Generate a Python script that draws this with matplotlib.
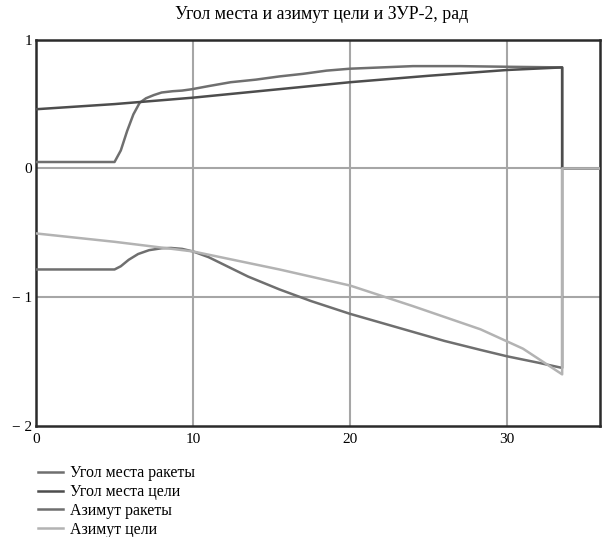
import matplotlib.pyplot as plt
import numpy as np

plt.rcParams['font.family'] = ['Liberation Serif', 'DejaVu Serif']

# time, s
t_missile = [0, 5.0, 5.4, 5.8, 6.2, 6.6, 7.0, 7.5, 8.0, 8.7, 9.3, 9.9, 11, 12.4, 14, 15.5, 17, 18.5, 20, 22, 24, 27, 30, 33.5, 33.5, 36]
elev_missile = [0.05, 0.05, 0.14, 0.29, 0.42, 0.51, 0.545, 0.57, 0.59, 0.60, 0.605, 0.615, 0.64, 0.67, 0.69, 0.715, 0.735, 0.76, 0.775, 0.785, 0.795, 0.795, 0.79, 0.785, 0.0, 0.0]

t_target = [0, 5, 10, 15, 20, 25, 30, 33.5, 33.5, 36]
elev_target = [0.46, 0.50, 0.55, 0.61, 0.67, 0.72, 0.765, 0.785, 0.0, 0.0]

t_az_missile = [0, 5.0, 5.4, 5.9, 6.5, 7.2, 8.0, 8.6, 9.3, 10, 11, 12, 13.5, 15.5, 17.5, 20, 22, 24, 26, 28.3, 30, 32, 33.5, 33.5, 36]
az_missile = [-0.785, -0.785, -0.76, -0.71, -0.665, -0.635, -0.62, -0.618, -0.625, -0.645, -0.69, -0.75, -0.84, -0.94, -1.03, -1.13, -1.20, -1.27, -1.34, -1.41, -1.46, -1.51, -1.55, 0.0, 0.0]

t_az_target = [0, 5, 10, 15.5, 20, 24, 28.3, 31, 33.5, 33.5, 36]
az_target = [-0.505, -0.57, -0.645, -0.785, -0.91, -1.07, -1.25, -1.40, -1.6, 0.0, 0.0]

labels = ['Угол места ракеты', 'Угол места цели', 'Азимут ракеты', 'Азимут цели']

fig = plt.figure(figsize=(6.05, 5.37), dpi=100)
ax = fig.add_axes([0.0595, 0.207, 0.932, 0.719])

for xv in [10, 20, 30]:
    ax.axvline(xv, color='#a6a6a6', lw=1.5, zorder=1)
for yv in [0, -1]:
    ax.axhline(yv, color='#a6a6a6', lw=1.5, zorder=1)

ax.plot(t_missile, elev_missile, color='#6f6f6f', lw=1.8, label=labels[0], zorder=3)
ax.plot(t_target, elev_target, color='#4d4d4d', lw=1.8, label=labels[1], zorder=3)
ax.plot(t_az_missile, az_missile, color='#6f6f6f', lw=1.8, label=labels[2], zorder=3)
ax.plot(t_az_target, az_target, color='#b3b3b3', lw=1.8, label=labels[3], zorder=4)

ax.set_xlim(0, 35.9)
ax.set_ylim(-2, 1)
ax.set_xticks([0, 10, 20, 30])
ax.set_xticklabels(['0', '10', '20', '30'], fontsize=11)
ax.set_yticks([1, 0, -1, -2])
ax.set_yticklabels(['1', '0', '− 1', '− 2'], fontsize=11)
ax.tick_params(axis='x', length=0, pad=5)
ax.tick_params(axis='y', length=0, pad=3)
for s in ax.spines.values():
    s.set_linewidth(1.8)
    s.set_color('#2b2b2b')

fig.suptitle('Угол места и азимут цели и ЗУР-2, рад', x=0.532, y=0.988, fontsize=12.8)

fig.legend(loc='upper left', bbox_to_anchor=(0.052, 0.145), frameon=False,
           fontsize=11.4, handlelength=1.6, handletextpad=0.45, labelspacing=0.17,
           borderaxespad=0)

plt.savefig('out.png', dpi=100)
